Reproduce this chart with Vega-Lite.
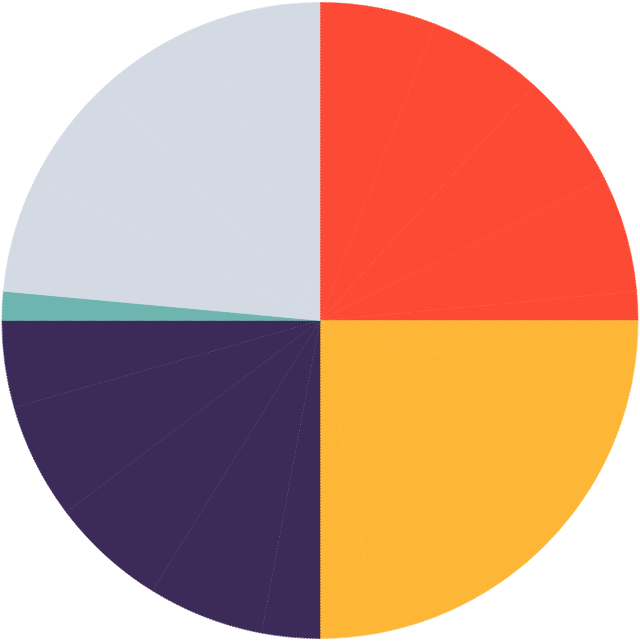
{
  "$schema": "https://vega.github.io/schema/vega-lite/v6.json",
  "width": 640,
  "height": 641,
  "autosize": {"type": "fit", "contains": "padding"},
  "padding": 0,
  "view": {"stroke": null},
  "data": {
    "values": [
      {"idx": 1, "group": "A", "value": 4},
      {"idx": 2, "group": "A", "value": 4},
      {"idx": 3, "group": "A", "value": 4},
      {"idx": 4, "group": "A", "value": 4},
      {"idx": 5, "group": "A", "value": 1},
      {"idx": 6, "group": "B", "value": 3},
      {"idx": 7, "group": "B", "value": 4},
      {"idx": 8, "group": "B", "value": 4},
      {"idx": 9, "group": "B", "value": 4},
      {"idx": 10, "group": "B", "value": 2},
      {"idx": 11, "group": "C", "value": 2},
      {"idx": 12, "group": "C", "value": 4},
      {"idx": 13, "group": "C", "value": 4},
      {"idx": 14, "group": "C", "value": 4},
      {"idx": 15, "group": "C", "value": 3},
      {"idx": 16, "group": "D", "value": 1},
      {"idx": 17, "group": "E", "value": 4},
      {"idx": 18, "group": "E", "value": 4},
      {"idx": 19, "group": "E", "value": 4},
      {"idx": 20, "group": "E", "value": 4}
    ]
  },
  "mark": {
    "type": "arc",
    "outerRadius": 318,
    "strokeWidth": 0.8,
    "strokeDash": [2, 1]
  },
  "encoding": {
    "theta": {"field": "value", "type": "quantitative", "stack": true},
    "order": {"field": "idx", "type": "quantitative"},
    "color": {
      "field": "group",
      "type": "nominal",
      "legend": null,
      "scale": {
        "domain": ["A", "B", "C", "D", "E"],
        "range": ["#FC4A35", "#FDB635", "#3C2B58", "#6EB5B0", "#D4DAE4"]
      }
    },
    "stroke": {
      "field": "group",
      "type": "nominal",
      "legend": null,
      "scale": {
        "domain": ["A", "B", "C", "D", "E"],
        "range": ["#FC4A35", "#FDB635", "#3C2B58", "#6EB5B0", "#D4DAE4"]
      }
    }
  }
}
